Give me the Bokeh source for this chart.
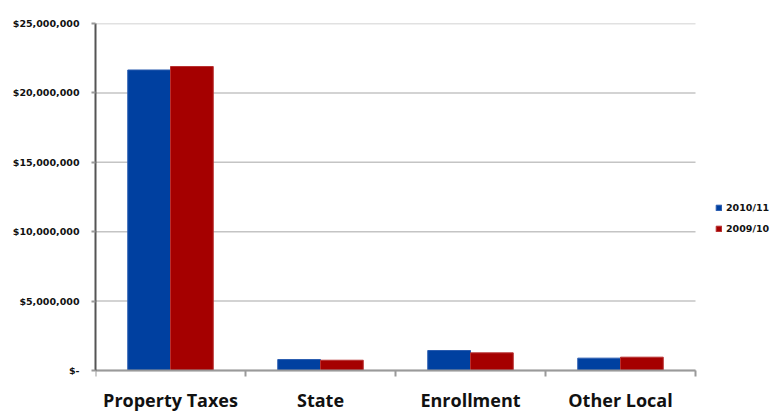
from bokeh.plotting import figure
from bokeh.models import (ColumnDataSource, Range1d, FixedTicker, NumeralTickFormatter,
                          Legend, LegendItem)
from bokeh.transform import dodge
from bokeh.embed import file_html
from bokeh.resources import INLINE

categories = ["Property Taxes", "State", "Enrollment", "Other Local"]
series_names = ["2010/11", "2009/10"]
values_2010_11 = [21_650_000, 790_000, 1_440_000, 890_000]
values_2009_10 = [21_900_000, 740_000, 1_270_000, 960_000]
y_ticks = [0, 5_000_000, 10_000_000, 15_000_000, 20_000_000, 25_000_000]

BLUE = "#0040a0"
RED = "#a50000"

W, H = 773, 413
LEFT, TOP = 95, 23
PLOT_W, PLOT_H = 600, 347  # pixel size of the value area
n = len(categories)
x_end = n * (W - LEFT) / PLOT_W            # room on the right for the legend
y_start = -(H - TOP - PLOT_H) * y_ticks[-1] / PLOT_H  # room below for category labels

pos = [i + 0.5 for i in range(n)]
src = ColumnDataSource(dict(x=pos, a=values_2010_11, b=values_2009_10))

p = figure(width=W, height=H, x_range=Range1d(0, x_end),
           y_range=Range1d(y_start, y_ticks[-1]), output_backend="svg",
           toolbar_location=None,
           min_border_left=LEFT, min_border_right=0, min_border_top=TOP,
           min_border_bottom=0)
p.outline_line_color = None
p.background_fill_color = "white"
p.border_fill_color = "white"

# horizontal gridlines spanning only the category area
p.xgrid.grid_line_color = None
p.ygrid.grid_line_color = None
p.segment(x0=[0] * len(y_ticks), x1=[n] * len(y_ticks), y0=y_ticks, y1=y_ticks,
          line_color="#c4c4c4", line_width=1.5, level="underlay")

r1 = p.vbar(x=dodge('x', -0.1425), top='a', width=0.285, source=src,
            fill_color=BLUE, line_color="#2a5cb0", line_width=1)
r2 = p.vbar(x=dodge('x', 0.1425), top='b', width=0.285, source=src,
            fill_color=RED, line_color="#b83030", line_width=1)

# x axis, drawn at value 0
xa = p.xaxis[0]
xa.fixed_location = 0
xa.bounds = (0, n)
xa.ticker = FixedTicker(ticks=pos, minor_ticks=list(range(n + 1)))
xa.major_label_overrides = {x: c for x, c in zip(pos, categories)}
xa.major_tick_line_color = None
xa.minor_tick_line_color = "#9a9a9a"
xa.minor_tick_line_width = 2
xa.minor_tick_out = 6
xa.minor_tick_in = 0
xa.axis_line_color = "#9a9a9a"
xa.axis_line_width = 2
xa.major_label_text_font = "Open Sans"
xa.major_label_text_font_style = "bold"
xa.major_label_text_font_size = "18px"
xa.major_label_text_color = "#111111"
xa.major_label_standoff = 11

# y axis
ya = p.yaxis[0]
ya.bounds = (0, y_ticks[-1])
ya.ticker = FixedTicker(ticks=y_ticks)
ya.formatter = NumeralTickFormatter(format="$0,0")
ya.major_label_overrides = {0: "$-"}
ya.axis_line_color = "#555555"
ya.axis_line_width = 2
ya.major_tick_line_color = "#9a9a9a"
ya.major_tick_line_width = 2
ya.major_tick_out = 4
ya.major_tick_in = 0
ya.minor_tick_line_color = None
ya.major_label_text_font = "DejaVu Sans"
ya.major_label_text_font_style = "bold"
ya.major_label_text_font_size = "9.5px"
ya.major_label_text_color = "#111111"
ya.major_label_standoff = 12

legend = Legend(items=[LegendItem(label=series_names[0], renderers=[r1]),
                       LegendItem(label=series_names[1], renderers=[r2])],
                location=(620, 179), padding=0, margin=0, spacing=10,
                glyph_width=7, glyph_height=7, label_height=8, label_standoff=4,
                label_text_font="DejaVu Sans", label_text_font_style="bold",
                label_text_font_size="9.5px", label_text_color="#111111",
                background_fill_alpha=0, border_line_color=None)
p.add_layout(legend)

open("out.html", "w").write(file_html(p, INLINE))
